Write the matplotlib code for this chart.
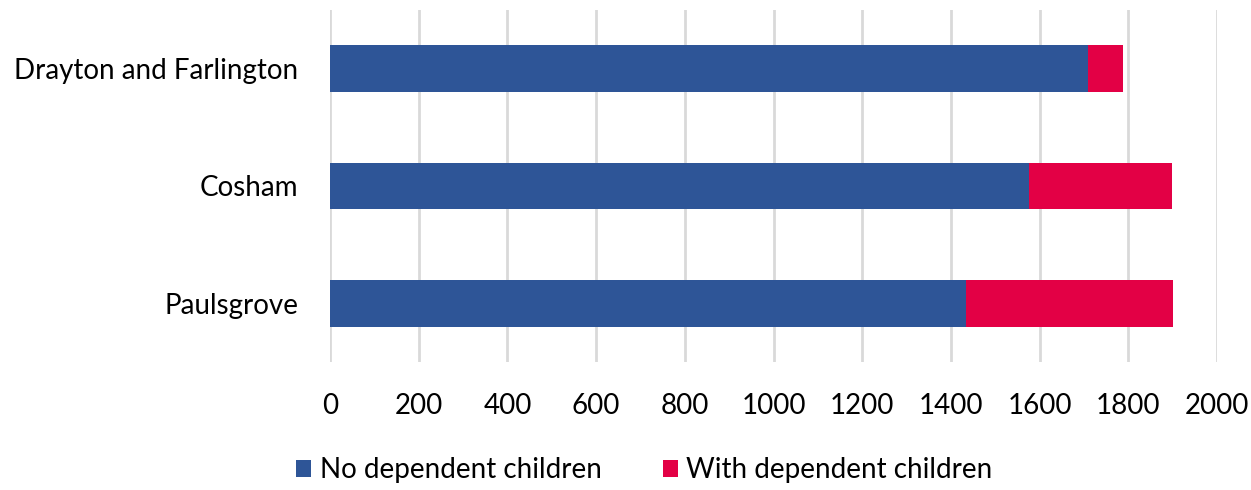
import numpy as np
import matplotlib.pyplot as plt

wards = ['Drayton and Farlington', 'Cosham', 'Paulsgrove']
no_children = [1710, 1577, 1434]
with_children = [78, 321, 467]
x_ticks = [0, 200, 400, 600, 800, 1000, 1200, 1400, 1600, 1800, 2000]

plt.rcParams['font.family'] = ['Lato', 'DejaVu Sans']

fig = plt.figure(figsize=(12.51, 4.90), dpi=100)
ax = fig.add_axes([330 / 1251, 1 - 362 / 490, (1217 - 330) / 1251, 352 / 490])

y = np.arange(len(wards))
ax.barh(y, no_children, height=0.4, color='#2E5597', label='No dependent children', zorder=3)
ax.barh(y, with_children, left=no_children, height=0.4, color='#E30045',
        label='With dependent children', zorder=3)

ax.set_ylim(len(wards) - 0.5, -0.5)
ax.set_xlim(0, 2000)
ax.set_xticks(x_ticks)
ax.set_yticks(y)
ax.set_yticklabels(wards)
ax.tick_params(axis='both', length=0, labelsize=20, colors='black')
ax.tick_params(axis='x', pad=22)
ax.tick_params(axis='y', pad=23)
ax.grid(axis='x', color='#d9d9d9', linewidth=2, zorder=0)
for s in ax.spines.values():
    s.set_visible(False)

fig.legend(loc='center', bbox_to_anchor=(0.515, 1 - 470 / 490), ncol=2, frameon=False,
           fontsize=20, handlelength=0.55, handleheight=0.55, handletextpad=0.3,
           columnspacing=2.2)

fig.savefig('out.png', dpi=100)
